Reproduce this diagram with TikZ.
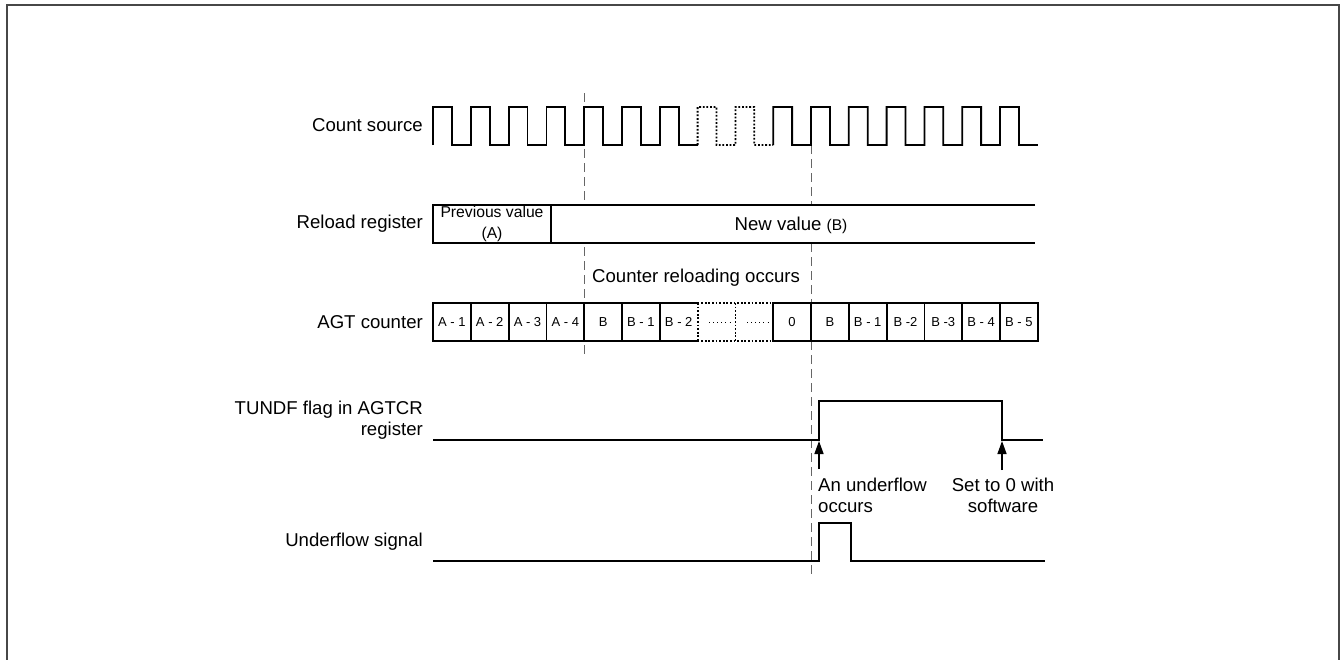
\documentclass[tikz,border=0pt]{standalone}
\usepackage{fontspec}
\setmainfont{Liberation Sans}
\usetikzlibrary{arrows.meta}
\tikzset{
  wave/.style={line width=1.8pt, line join=miter, black},
  dotwave/.style={line width=1.8pt, black, dash pattern=on 1.8pt off 1.8pt},
  guide/.style={line width=1pt, black!60, dash pattern=on 9pt off 5pt},
  lbl/.style={inner sep=0pt, font=\fontsize{18.6pt}{21pt}\selectfont},
  cell/.style={inner sep=0pt, font=\fontsize{13pt}{15pt}\selectfont},
  small/.style={inner sep=0pt, font=\fontsize{15.7pt}{21pt}\selectfont},
  evt/.style={line width=1.4pt, -{Triangle[length=13pt,width=9pt]}},
  frame/.style={line width=2pt, black!72}
}
\begin{document}
\begin{tikzpicture}[x=1pt,y=-1pt]
\useasboundingbox (0,0) rectangle (1341,659);
% frame
\draw[frame] (7,662) -- (7,5) -- (1339,5) -- (1339,662);

% labels
\node[lbl, anchor=east] (lcs) at (423,125) {Count source};
\node[lbl, anchor=east] (lrr) at (423,224) {Reload register};
\node[lbl, anchor=east] (lagt) at (423,322) {AGT counter};
\node[lbl, anchor=east, align=right] (ltf) at (423,420.5) {TUNDF flag in AGTCR\\register};
\node[lbl, anchor=east] (lus) at (423,542) {Underflow signal};

% guide lines
\draw[guide] (584.2,93) -- (584.2,358);
\draw[guide] (811,145) -- (811,576);

% count source
\draw[wave] (433,145) \foreach \k in {0,...,6} {
  -- ({433+\k*37.8},107) -- ({433+\k*37.8+18.9},107) -- ({433+\k*37.8+18.9},145) -- ({433+(\k+1)*37.8},145) };
\draw[dotwave] (697.6,145) \foreach \k in {7,8} {
  -- ({433+\k*37.8},107) -- ({433+\k*37.8+18.9},107) -- ({433+\k*37.8+18.9},145) -- ({433+(\k+1)*37.8},145) };
\draw[wave] (773.2,145) \foreach \k in {9,...,15} {
  -- ({433+\k*37.8},107) -- ({433+\k*37.8+18.9},107) -- ({433+\k*37.8+18.9},145) -- ({433+(\k+1)*37.8},145) };

% reload register
\fill[white] (433,205) rectangle (1035,243);
\draw[wave] (1035,205) -- (433,205) -- (433,243) -- (1035,243);
\draw[wave] (551,205) -- (551,243);
\node[small, align=center] (prev) at (492,223.5) {Previous value\\(A)};
\node[lbl] (newv) at (791,225) {New value {\fontsize{15.5pt}{18pt}\selectfont(B)}};
\node[lbl, anchor=west] (reload) at (592,278) {Counter reloading occurs};

% AGT counter cells
\draw[wave] (697.6,303) -- (433,303) -- (433,341) -- (697.6,341);
\draw[wave] (773.2,303) -- (1037.8,303) -- (1037.8,341) -- (773.2,341) -- cycle;
\foreach \k in {1,...,6} \draw[wave] ({433+\k*37.8},303) -- ({433+\k*37.8},341);
\foreach \k in {10,...,15} \draw[wave] ({433+\k*37.8},303) -- ({433+\k*37.8},341);
\draw[dotwave] (697.6,303) -- (773.2,303);
\draw[dotwave] (697.6,341) -- (773.2,341);
\draw[dotwave] (697.6,303) -- (697.6,341);
\draw[dotwave] (735.4,303) -- (735.4,341);
\draw[line width=0.9pt, dash pattern=on 0.9pt off 3.2pt] (709,322.5) -- (731,322.5);
\draw[line width=0.9pt, dash pattern=on 0.9pt off 3.2pt] (747,322.5) -- (769,322.5);
\foreach \t [count=\i from 0] in {A - 1,A - 2,A - 3,A - 4,B,B - 1,B - 2} {
  \node[cell] (c\i) at ({433+\i*37.8+18.9},322) {\t};
}
\foreach \t [count=\i from 9] in {0,B,B - 1,B -2,B -3,B - 4,B - 5} {
  \node[cell] (c\i) at ({433+\i*37.8+18.9},322) {\t};
}

% TUNDF flag
\draw[wave] (433,440) -- (819,440) -- (819,401) -- (1002,401) -- (1002,440) -- (1043,440);
\coordinate (a1s) at (819,469);
\coordinate (a1e) at (819,441);
\coordinate (a2s) at (1002,470);
\coordinate (a2e) at (1002,441);
\draw[evt] (a1s) -- (a1e);
\draw[evt] (a2s) -- (a2e);
\node[lbl, anchor=west, align=left] (uf) at (818,495.5) {An underflow\\occurs};
\node[lbl, align=center] (st) at (1003,495.5) {Set to 0 with\\software};

% underflow signal
\draw[wave] (433,561) -- (819,561) -- (819,523) -- (851,523) -- (851,561) -- (1045,561);
\end{tikzpicture}
\end{document}
